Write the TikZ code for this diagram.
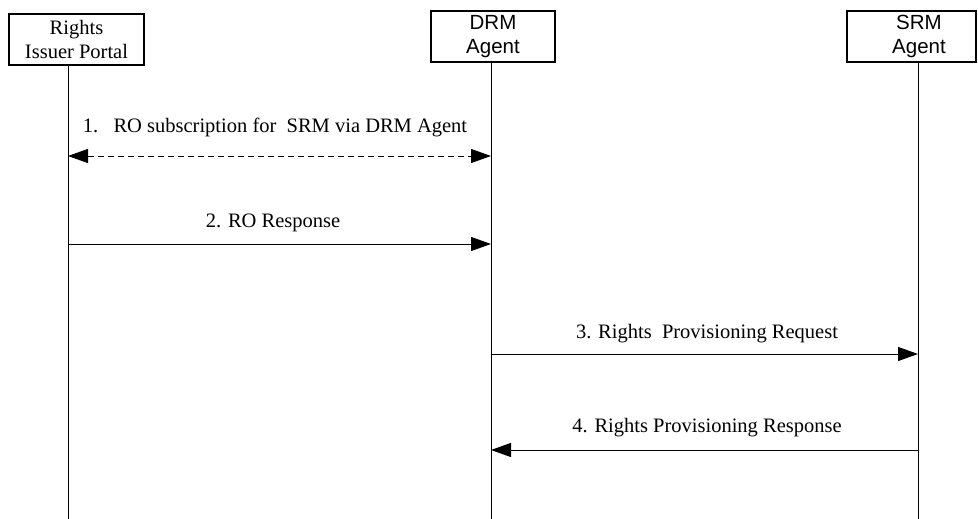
\documentclass[tikz,border=0pt]{standalone}
\usepackage{fontspec}
\setmainfont{Liberation Serif}
\newfontfamily\arialfont{Liberation Sans}
\usetikzlibrary{arrows.meta}

\begin{document}
\begin{tikzpicture}[x=1pt,y=-1pt,
    entity/.style={draw,line width=2.6pt,inner sep=0pt,align=center,
      font=\fontsize{20.5}{24}\selectfont},
    lifeline/.style={line width=1pt},
    msg/.style={line width=1pt,-{Triangle[length=20pt,width=14pt]}},
    msgtext/.style={font=\fontsize{20.5}{24}\selectfont,anchor=base}]
  \useasboundingbox (0,0) rectangle (978,519);
  \clip (0,0) rectangle (978,519);
  % entities
  \node[entity,minimum width=135pt,minimum height=51pt] (portal) at (76.5,39.5) {Rights\\Issuer Portal};
  \node[entity,minimum width=124pt,minimum height=51pt,font=\arialfont\fontsize{20.5}{24}\selectfont] (drm) at (493,36.5) {DRM\\Agent};
  \draw[line width=2.6pt] (847,11) rectangle (976,62);
  \node[inner sep=0pt,align=center,font=\arialfont\fontsize{20.5}{24}\selectfont] (srm) at (919,36.5) {SRM\\Agent};
  % lifelines
  \coordinate (portalend) at (68,519);
  \coordinate (drmend) at (491,519);
  \coordinate (srmend) at (918,519);
  \draw[lifeline] (portal.south -| portalend) -- (portalend);
  \draw[lifeline] (drm.south -| drmend) -- (drmend);
  \draw[lifeline] (918,62) -- (srmend);
  % message ends
  \coordinate (a1) at (68,156);  \coordinate (b1) at (491,156);
  \coordinate (a2) at (68,244);  \coordinate (b2) at (491,244);
  \coordinate (a3) at (491,354); \coordinate (b3) at (918,354);
  \coordinate (a4) at (918,450); \coordinate (b4) at (491,450);
  \draw[msg,{Triangle[length=20pt,width=14pt]}-{Triangle[length=20pt,width=14pt]},dash pattern=on 6pt off 4pt] (a1) -- (b1);
  \draw[msg] (a2) -- (b2);
  \draw[msg] (a3) -- (b3);
  \draw[msg] (a4) -- (b4);
  % labels
  \node[msgtext] (t1) at (275,132) {1.\ \ \ RO subscription for\ \ SRM via DRM Agent};
  \node[msgtext] (t2) at (273,227) {2. RO Response};
  \node[msgtext] (t3) at (707,338) {3. Rights\ \ Provisioning Request};
  \node[msgtext] (t4) at (707,432) {4. Rights Provisioning Response};
\end{tikzpicture}
\end{document}
